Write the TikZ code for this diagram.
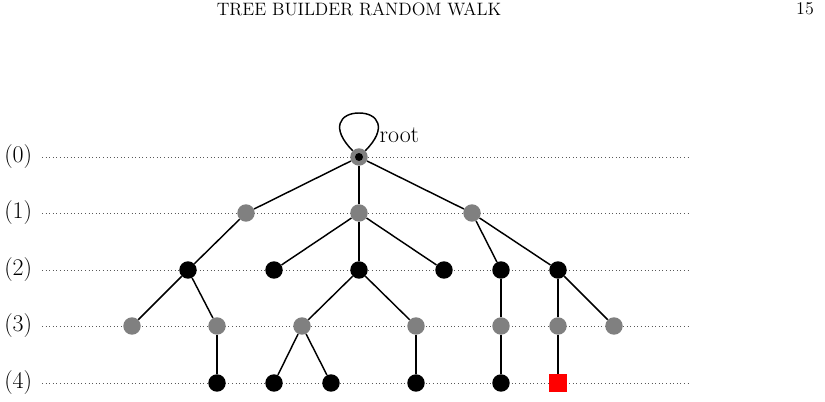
\documentclass[tikz,border=0pt]{standalone}
\begin{document}
\begin{tikzpicture}[x=0.0264583cm,y=-0.0264583cm,
 g/.style={circle,fill=gray,inner sep=0pt,minimum size=17.5pt*0.75},
 b/.style={circle,fill=black,inner sep=0pt,minimum size=17.5pt*0.75},
 e/.style={line width=1.1pt},
 lvl/.style={dotted,gray!70!black,line width=0.7pt},
 big/.style={font=\fontsize{18}{20}\selectfont}]
\useasboundingbox (0,0) rectangle (825,402);
\node[font=\fontsize{13.5}{15}\selectfont] (hd) at (359,9) {TREE BUILDER RANDOM WALK};
\node[font=\fontsize{13.5}{15}\selectfont] (pg) at (805,9) {15};
\foreach \y/\t in {157/0,213/1,270/2,326/3,383/4}{
 \node[big,anchor=west,inner sep=0pt] (L\t) at (4,\y) {(\t)};
 \draw[lvl] (42,\y) -- (690,\y);}
\node[g] (r) at (359,157) {};
\node[circle,fill=black,inner sep=0pt,minimum size=6pt] (rc) at (r) {};
\draw[e] (r.north west) .. controls (330,128) and (340,113) .. (359,113) .. controls (378,113) and (388,128) .. (r.north east);
\node[big,anchor=west] (rt) at (375,135) {root};
\node[g] (a1) at (246,213) {}; \node[g] (a2) at (359,213) {}; \node[g] (a3) at (472,213) {};
\node[b] (b1) at (188,270) {}; \node[b] (b2) at (274,270) {}; \node[b] (b3) at (359,270) {};
\node[b] (b4) at (444,270) {}; \node[b] (b5) at (501,270) {}; \node[b] (b6) at (558,270) {};
\node[g] (c1) at (132,326) {}; \node[g] (c2) at (217,326) {}; \node[g] (c3) at (302,326) {};
\node[g] (c4) at (416,326) {}; \node[g] (c5) at (501,326) {}; \node[g] (c6) at (558,326) {};
\node[g] (c7) at (614,326) {};
\node[b] (d1) at (217,383) {}; \node[b] (d2) at (274,383) {}; \node[b] (d3) at (331,383) {};
\node[b] (d4) at (416,383) {}; \node[b] (d5) at (501,383) {};
\node[fill=red,inner sep=0pt,minimum size=18pt*0.75] (d6) at (558,383) {};
\foreach \u/\v in {r/a1,r/a2,r/a3,a1/b1,a2/b2,a2/b3,a2/b4,a3/b5,a3/b6,b1/c1,b1/c2,b3/c3,b3/c4,b5/c5,b6/c6,b6/c7,c2/d1,c3/d2,c3/d3,c4/d4,c5/d5,c6/d6}
 \draw[e] (\u) -- (\v);
\end{tikzpicture}
\end{document}
